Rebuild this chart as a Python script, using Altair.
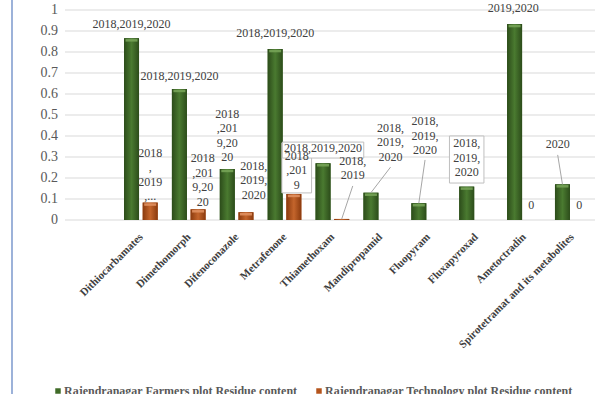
import json
import altair as alt
import pandas as pd

# ---------------- data ----------------
categories = [
    "Dithiocarbamates", "Dimethomorph", "Difenoconazole", "Metrafenone",
    "Thiamethoxam", "Mandipropamid", "Fluopyram", "Fluxapyroxad",
    "Ametoctradin", "Spirotetramat and its metabolites",
]
series_names = [
    "Rajendranagar Farmers plot Residue content",
    "Rajendranagar Technology plot Residue content",
]
farmers = [0.865, 0.624, 0.243, 0.814, 0.27, 0.13, 0.08, 0.159, 0.933, 0.17]
technology = [0.083, 0.051, 0.037, 0.124, 0.005, None, None, None, 0.0, 0.0]
farmers_labels = [
    "2018,2019,2020", "2018,2019,2020", "2018\n,201\n9,20\n20", "2018,2019,2020",
    "2018,2019,2020", "2018,\n2019,\n2020", "2018,\n2019,\n2020", "2018,\n2019,\n2020",
    "2019,2020", "2020",
]
technology_labels = [
    "2018\n,\n2019\n,...", "2018\n,201\n9,20\n20", "2018,\n2019,\n2020", "2018\n,201\n9",
    "2018,\n2019", None, None, None, "0", "0",
]
y_ticks = [0, 0.1, 0.2, 0.3, 0.4, 0.5, 0.6, 0.7, 0.8, 0.9, 1]

# ---------------- layout (label placement as in the picture) ----------------
# (shift in category steps, top of label in axis units)
farmers_label_pos = [(0, 0.957), (0, 0.710), (0, 0.529), (0, 0.914), (0, 0.367),
                     (0.41, 0.462), (0.13, 0.495), (0, 0.390), (-0.03, 1.033), (-0.1, 0.386)]
technology_label_pos = [(0, 0.343), (0.1, 0.319), (0.16, 0.281), (0.06, 0.329), (0.23, 0.305),
                        None, None, None, (-0.04, 0.095), (-0.04, 0.095)]
# (series, category index) -> where the leader line meets the label, axis units
leaders = {(0, 5): 0.252, (0, 6): 0.286, (0, 9): 0.31, (1, 4): 0.162}
# (series, category index, half width in steps, top, bottom)
boxes = [(1, 3, 0.31, 0.367, 0.129), (0, 4, 0.85, 0.371, 0.295), (0, 7, 0.36, 0.40, 0.176)]
BAR_SHIFT = 0.195
PLOT_W, PLOT_H = 530, 210

GREEN, ORANGE = "#3f6b27", "#b5541c"
FONT = "Liberation Serif, Times New Roman, serif"

bar_rows, label_rows, leader_rows, box_rows = [], [], [], []
for i, cat in enumerate(categories):
    for s, vals, labs, pos in ((0, farmers, farmers_labels, farmers_label_pos),
                               (1, technology, technology_labels, technology_label_pos)):
        side = -1 if s == 0 else 1
        bx = (i + 1) + side * BAR_SHIFT
        v = vals[i]
        if v is not None:
            bar_rows.append({"cat": cat, "series": series_names[s], "s": s, "bx": bx, "value": v})
        if labs[i] is not None:
            dx, top = pos[i]
            label_rows.append({"text": labs[i], "lx": bx + dx, "top": top})
            if (s, i) in leaders:
                leader_rows.append({"bx": bx, "value": v, "lx": bx + dx, "end": leaders[(s, i)]})
for s, i, hw, top, bot in boxes:
    side = -1 if s == 0 else 1
    shift = technology_label_pos[i][0] if s == 1 else farmers_label_pos[i][0]
    bx = (i + 1) + side * BAR_SHIFT + shift
    box_rows.append({"x1": bx - hw, "x2": bx + hw, "y1": bot, "y2": top})

bars = pd.DataFrame(bar_rows)
labels = pd.DataFrame(label_rows)
leaders_df = pd.DataFrame(leader_rows)
boxes_df = pd.DataFrame(box_rows)
ticks_df = pd.DataFrame({"t": y_ticks})

xscale = alt.Scale(domain=[-0.48, 10.38], nice=False, zero=False)
yscale = alt.Scale(domain=[0, 1], nice=False, zero=True)

label_expr = json.dumps(categories) + "[datum.value - 1]"

x_axis = alt.Axis(
    values=list(range(1, 11)), labelExpr=label_expr, labelAngle=315,
    labelAlign="right", labelBaseline="middle", labelPadding=15,
    labelFont=FONT, labelFontWeight="bold", labelFontSize=11, labelColor="#404040",
    grid=False, ticks=False, domain=False, title=None, labelOverlap=False,
)


def X(field):
    return alt.X(field, scale=xscale, axis=x_axis)


def Y(field):
    return alt.Y(field, scale=yscale, axis=None)


# value-axis gridlines and labels, placed through the y scale
grid_layer = alt.Chart(ticks_df).mark_rule(color="#d9d9d9", strokeWidth=1).encode(
    y=Y("t:Q"), x=alt.value(0), x2=alt.value(PLOT_W))
ylabel_layer = alt.Chart(ticks_df).mark_text(
    font=FONT, fontSize=14, color="#595959", align="right", baseline="middle"
).encode(y=Y("t:Q"), x=alt.value(-7), text=alt.Text("t:Q", format="~g"))

base = alt.Chart(bars)

bar_layer = base.mark_bar(size=15).encode(
    x=X("bx:Q"),
    y=Y("value:Q"),
    color=alt.Color(
        "series:N",
        scale=alt.Scale(domain=series_names, range=[GREEN, ORANGE]),
        legend=alt.Legend(
            title=None, orient="none", legendX=-13, legendY=375, direction="horizontal",
            columns=2, columnPadding=15, padding=0, symbolType="square", symbolSize=30,
            symbolStrokeWidth=0, labelFont=FONT, labelFontWeight="bold",
            labelFontSize=12, labelColor="#595959", labelOffset=0, labelLimit=400,
        ),
    ),
)


def gradient(dark, light):
    return alt.Gradient(
        gradient="linear", x1=0, x2=1, y1=0, y2=0,
        stops=[alt.GradientStop(color=dark, offset=0),
               alt.GradientStop(color=light, offset=0.5),
               alt.GradientStop(color=dark, offset=1)],
    )


green_grad = base.transform_filter("datum.s == 0").mark_bar(
    size=15, color=gradient("#2c4c1a", "#4a7a30")).encode(x=X("bx:Q"), y=Y("value:Q"))
orange_grad = base.transform_filter("datum.s == 1").mark_bar(
    size=15, color=gradient("#8a3a0e", "#c4652c")).encode(x=X("bx:Q"), y=Y("value:Q"))

green_cap = base.transform_filter("datum.s == 0 && datum.value > 0").mark_tick(
    orient="horizontal", size=12, thickness=2.5, yOffset=2, color="#76a356", opacity=0.9
).encode(x=X("bx:Q"), y=Y("value:Q"))
orange_cap = base.transform_filter("datum.s == 1 && datum.value > 0.01").mark_tick(
    orient="horizontal", size=12, thickness=2.5, yOffset=2, color="#e09060", opacity=0.9
).encode(x=X("bx:Q"), y=Y("value:Q"))

leader_layer = alt.Chart(leaders_df).mark_rule(color="#a6a6a6", strokeWidth=1).encode(
    x=X("bx:Q"), y=Y("value:Q"), x2="lx:Q", y2="end:Q")

box_layer = alt.Chart(boxes_df).mark_rect(fill="white", stroke="#bfbfbf", strokeWidth=1).encode(
    x=X("x1:Q"), x2="x2:Q", y=Y("y1:Q"), y2="y2:Q")

text_layer = alt.Chart(labels).mark_text(
    font=FONT, fontSize=12, color="#404040", baseline="top", align="center",
    lineBreak="\n", lineHeight=14.5,
).encode(x=X("lx:Q"), y=Y("top:Q"), text="text:N")

edge = alt.Chart(pd.DataFrame({"k": [0]})).mark_rule(color="#5b7fc0", strokeWidth=1.2).encode(
    x=alt.value(-53), y=alt.value(-10), y2=alt.value(384))

chart = alt.layer(
    grid_layer, ylabel_layer,
    bar_layer, green_grad, orange_grad, green_cap, orange_cap,
    leader_layer, box_layer, text_layer, edge,
).properties(
    width=PLOT_W, height=PLOT_H,
    autosize=alt.AutoSizeParams(type="none"),
    padding={"left": 65, "top": 10, "right": 0, "bottom": 174},
    background="white",
).configure_view(stroke=None)

chart.save("out.html", embed_options={"renderer": "svg", "actions": False})
